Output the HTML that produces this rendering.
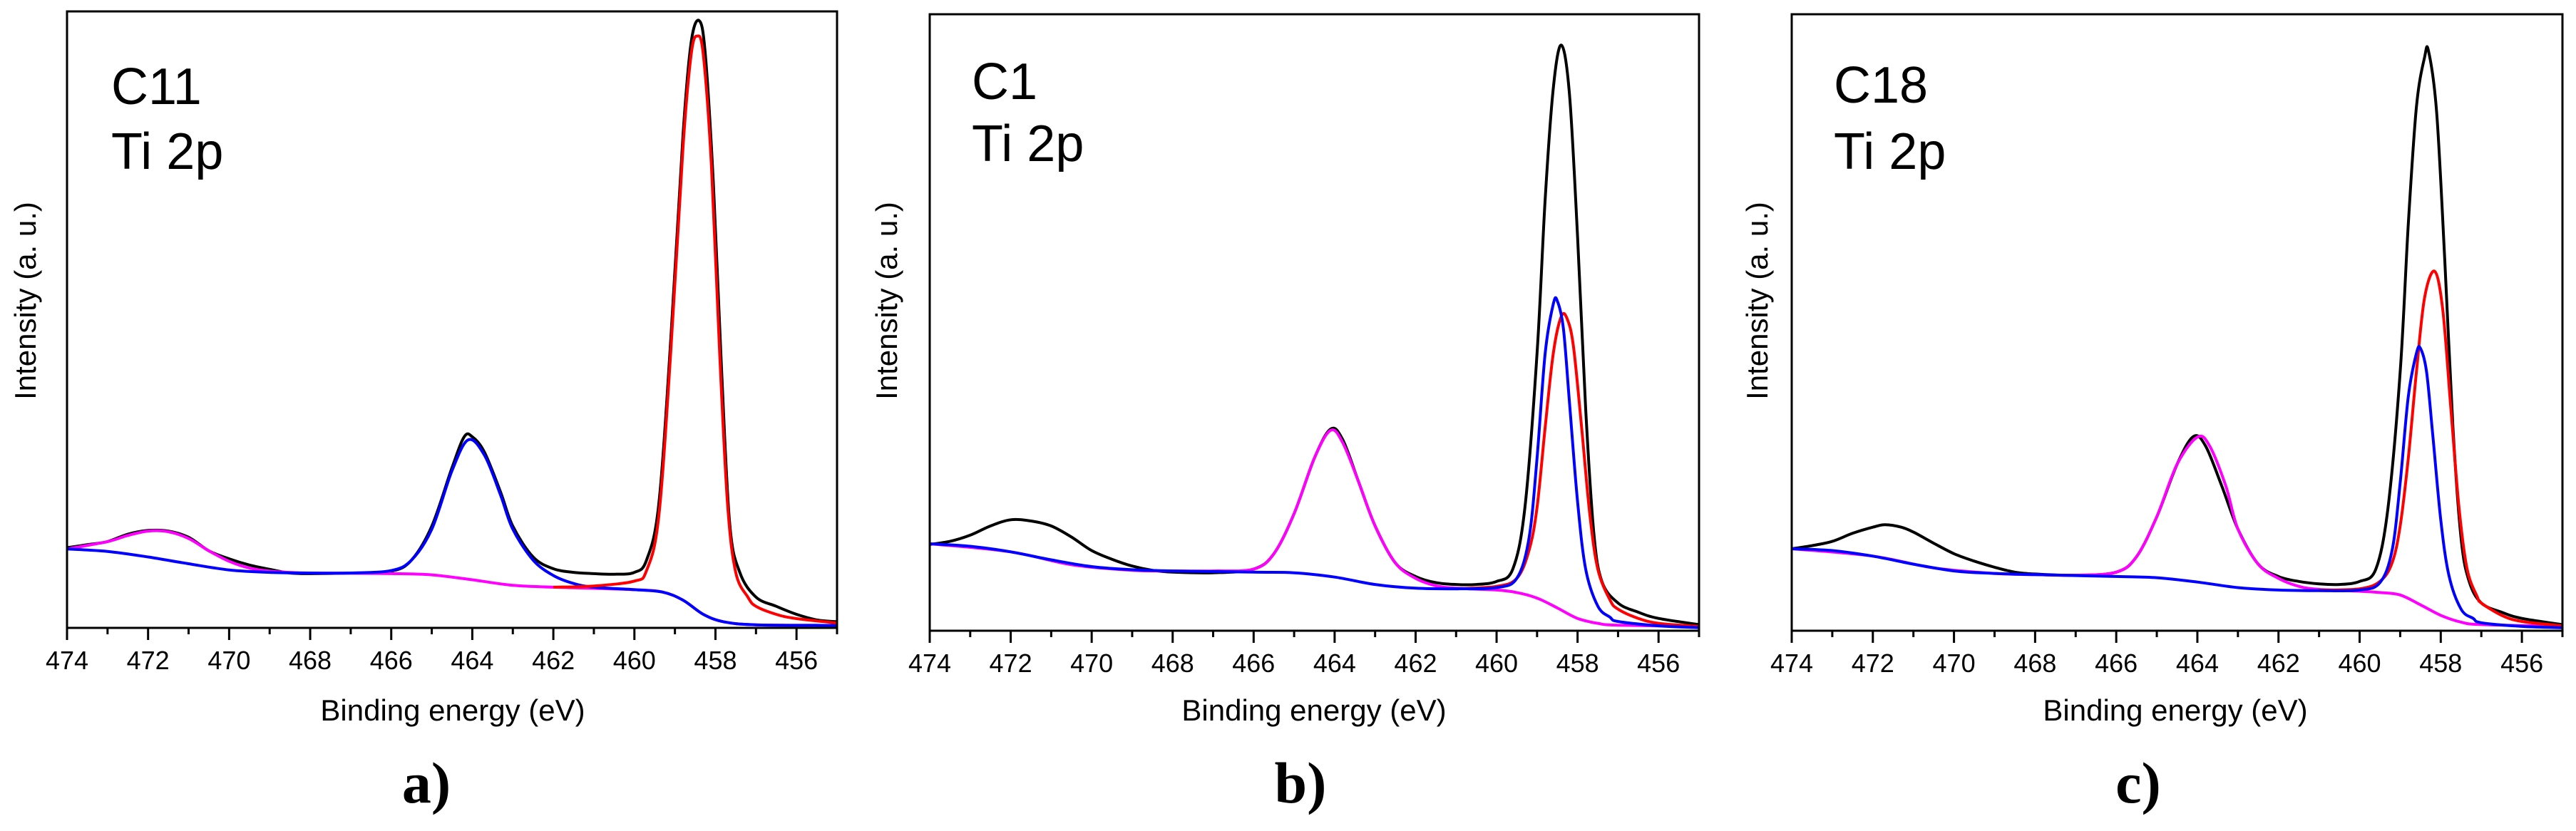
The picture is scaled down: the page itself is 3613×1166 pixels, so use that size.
<!DOCTYPE html>
<html><head><meta charset="utf-8"><style>
html,body{margin:0;padding:0;background:#fff;}
svg{display:block;font-family:"Liberation Sans",Arial,sans-serif;}
</style></head><body>
<svg id="chart" width="3613" height="1166" viewBox="0 0 3613 1166" xmlns="http://www.w3.org/2000/svg"></svg>
<script>
// x tick values (eV)
const tickMajor = [474,472,470,468,466,464,462,460,458,456];
const tickMinor = [473,471,469,467,465,463,461,459,457,455];
const tickLabels = ["474","472","470","468","466","464","462","460","458","456"];
const panelNames = ["C11","C1","C18"];
const panelLetters = ["a)","b)","c)"];

// Panel a (C11)
const aBlackX = [474,473.5,473,472.5,472,471.5,471,470.5,470,469.5,469,468.5,468,467,466,465.5,465,464.5,464.2,464,463.7,463.3,463,462.5,462,461.5,461,460.5,460,459.7,459.4,459.1,458.8,458.6,458.4,458.25,458.05,457.85,457.65,457.4,457,456.5,456,455.5,455];
const aBlackY = [0.13,0.135,0.14,0.152,0.158,0.157,0.147,0.125,0.112,0.102,0.095,0.089,0.088,0.089,0.092,0.11,0.165,0.26,0.31,0.31,0.285,0.22,0.165,0.115,0.096,0.09,0.088,0.087,0.09,0.11,0.2,0.47,0.8,0.95,0.985,0.93,0.72,0.42,0.17,0.09,0.05,0.035,0.022,0.013,0.01];
const aRedX = [462,461,460,459.7,459.4,459.1,458.8,458.6,458.45,458.3,458.1,457.9,457.7,457.5,457.2,457,456.5,456,455];
const aRedY = [0.066,0.068,0.076,0.093,0.18,0.45,0.78,0.93,0.96,0.93,0.75,0.45,0.2,0.09,0.05,0.035,0.022,0.015,0.008];
const aBlueX = [474,473,472,471,470,469,468,467,466,465.5,465,464.5,464.1,463.7,463.3,463,462.5,462,461.5,461,460,459.3,458.8,458.3,457.8,457,455];
const aBlueY = [0.128,0.124,0.115,0.104,0.094,0.09,0.089,0.089,0.093,0.11,0.16,0.255,0.305,0.28,0.215,0.16,0.11,0.085,0.072,0.066,0.062,0.058,0.045,0.022,0.01,0.005,0.004];
const aMagX = [474,473,472.5,472,471.5,471,470.5,470,469.5,469,468.5,468,466,465,464,463,462,460,459.3,458.8,458.3,457.8,457,455];
const aMagY = [0.128,0.14,0.15,0.157,0.156,0.145,0.125,0.108,0.097,0.092,0.09,0.089,0.088,0.086,0.078,0.069,0.066,0.062,0.058,0.045,0.022,0.01,0.005,0.004];

// Panel b (C1)
const bBlackX = [474,473.5,473,472.5,472,471.5,471,470.5,470,469.5,469,468.5,468,467,466,465.5,465,464.5,464.1,463.8,463.4,463,462.5,462,461.5,461,460.5,460,459.6,459.3,459,458.8,458.6,458.4,458.2,458,457.8,457.6,457.4,457,456.5,456,455];
const bBlackY = [0.14,0.145,0.155,0.17,0.18,0.178,0.17,0.152,0.13,0.116,0.105,0.098,0.095,0.094,0.1,0.125,0.19,0.28,0.327,0.31,0.24,0.17,0.11,0.088,0.078,0.075,0.075,0.08,0.1,0.2,0.45,0.7,0.88,0.95,0.87,0.64,0.36,0.16,0.08,0.045,0.03,0.02,0.01];
const bRedX = [461,460,459.5,459.2,459,458.8,458.6,458.4,458.25,458.1,457.9,457.7,457.5,457.2,457,456.5,456,455];
const bRedY = [0.068,0.072,0.085,0.13,0.2,0.33,0.45,0.51,0.505,0.46,0.33,0.19,0.1,0.05,0.035,0.02,0.012,0.007];
const bBlueX = [474,473,472,471,470,469,468,466,465,464,463,462,461,460,459.5,459.2,459,458.8,458.6,458.5,458.35,458.2,458,457.8,457.5,457.2,457,456,455];
const bBlueY = [0.141,0.137,0.128,0.115,0.104,0.099,0.097,0.095,0.094,0.087,0.075,0.069,0.068,0.07,0.085,0.15,0.28,0.45,0.53,0.535,0.49,0.37,0.21,0.1,0.04,0.022,0.015,0.008,0.005];
const bMagX = [474,472,470.5,469,468,467,466,465.5,465,464.5,464.1,463.8,463.4,463,462.5,462,461.5,461,460,459.5,459,458.5,458,457.5,457,455];
const bMagY = [0.141,0.128,0.107,0.098,0.097,0.097,0.1,0.125,0.19,0.28,0.325,0.305,0.24,0.17,0.11,0.085,0.073,0.069,0.066,0.062,0.053,0.037,0.02,0.012,0.009,0.007];

// Panel c (C18)
const cBlackX = [474,473.5,473,472.5,472,471.7,471.3,471,470.5,470,469.5,469,468.5,468,467,466,465.5,465,464.5,464.1,463.8,463.4,463,462.5,462,461.5,461,460.5,460,459.6,459.3,459,458.8,458.6,458.4,458.3,458.1,457.9,457.7,457.5,457.3,457,456.5,456,455];
const cBlackY = [0.133,0.138,0.145,0.158,0.168,0.172,0.168,0.16,0.142,0.125,0.113,0.103,0.095,0.092,0.09,0.095,0.12,0.185,0.27,0.315,0.3,0.235,0.165,0.108,0.088,0.08,0.076,0.075,0.08,0.1,0.2,0.42,0.66,0.85,0.93,0.94,0.84,0.6,0.33,0.15,0.08,0.045,0.03,0.02,0.01];
const cRedX = [461,460,459.5,459.2,459,458.8,458.6,458.4,458.15,457.95,457.75,457.55,457.35,457.1,457,456.5,456,455];
const cRedY = [0.066,0.068,0.08,0.11,0.17,0.28,0.42,0.54,0.583,0.52,0.36,0.2,0.1,0.055,0.045,0.025,0.015,0.008];
const cBlueX = [474,473,472,471,470,469,468,466,465,464,463,462,461,460,459.5,459.2,459,458.8,458.6,458.5,458.35,458.2,458,457.8,457.5,457.2,457,456,455];
const cBlueY = [0.133,0.13,0.121,0.108,0.097,0.093,0.091,0.088,0.086,0.079,0.07,0.066,0.065,0.066,0.078,0.13,0.24,0.38,0.45,0.458,0.42,0.32,0.18,0.09,0.035,0.02,0.013,0.007,0.005];
const cMagX = [474,472,470.5,469,468,467,466,465.5,465,464.5,464,463.7,463.3,463,462.5,462,461.5,461,460,459.5,459,458.5,458,457.5,457,455];
const cMagY = [0.133,0.121,0.102,0.093,0.091,0.09,0.095,0.12,0.185,0.27,0.314,0.3,0.235,0.165,0.108,0.085,0.072,0.067,0.064,0.062,0.058,0.042,0.025,0.014,0.01,0.007];

const panels = [
  {left:94, right:1174, top:16, bottom:881, ylabX:36, nameX:156, nameY:146, tiY:237, titleX:635, letterX:598,
   series:[[aBlackX,aBlackY,"#000","measured"],[aMagX,aMagY,"#ff00ff","satellite-fit"],[aBlueX,aBlueY,"#0000ff","ti2p12-fit"],[aRedX,aRedY,"#ff0000","ti2p32-fit"]]},
  {left:1304, right:2383, top:20, bottom:885, ylabX:1244, nameX:1363, nameY:139, tiY:226, titleX:1843, letterX:1824,
   series:[[bBlackX,bBlackY,"#000","measured"],[bMagX,bMagY,"#ff00ff","ti2p12-fit"],[bRedX,bRedY,"#ff0000","ti2p32-fit-a"],[bBlueX,bBlueY,"#0000ff","ti2p32-fit-b"]]},
  {left:2513, right:3594, top:20, bottom:885, ylabX:2465, nameX:2572, nameY:144, tiY:237, titleX:3051, letterX:2999,
   series:[[cBlackX,cBlackY,"#000","measured"],[cMagX,cMagY,"#ff00ff","ti2p12-fit"],[cRedX,cRedY,"#ff0000","ti2p32-fit-a"],[cBlueX,cBlueY,"#0000ff","ti2p32-fit-b"]]}
];

const NS = "http://www.w3.org/2000/svg";
const svg = document.getElementById("chart");
function mk(tag, attrs, parent){
  const e = document.createElementNS(NS, tag);
  for (const k in attrs) e.setAttribute(k, attrs[k]);
  (parent||svg).appendChild(e);
  return e;
}
function smoothPath(pts){
  let d = "M"+pts[0][0].toFixed(1)+","+pts[0][1].toFixed(1);
  for (let i=0;i<pts.length-1;i++){
    const p0=pts[Math.max(0,i-1)], p1=pts[i], p2=pts[i+1], p3=pts[Math.min(pts.length-1,i+2)];
    const c1x=p1[0]+(p2[0]-p0[0])/6, c1y=p1[1]+(p2[1]-p0[1])/6;
    const c2x=p2[0]-(p3[0]-p1[0])/6, c2y=p2[1]-(p3[1]-p1[1])/6;
    d += " C"+c1x.toFixed(1)+","+c1y.toFixed(1)+" "+c2x.toFixed(1)+","+c2y.toFixed(1)+" "+p2[0].toFixed(1)+","+p2[1].toFixed(1);
  }
  return d;
}

panels.forEach((p, pi) => {
  const g = mk("g", {});
  
  
  const xs = v => p.left + (474 - v) / 19 * (p.right - p.left);
  const ys = v => p.bottom - v * (p.bottom - p.top);

  // series
  p.series.forEach(s => {
    const pts = s[0].map((x,i)=>[xs(x), ys(s[1][i])]);
    const path = mk("path", {d:smoothPath(pts), fill:"none", stroke:s[2], "stroke-width":4, "stroke-linejoin":"round"}, g);
    
    
  });

  // frame
  const frame = mk("rect", {x:p.left, y:p.top, width:p.right-p.left, height:p.bottom-p.top, fill:"none", stroke:"#000", "stroke-width":3}, g);
  
  

  // ticks
  tickMajor.forEach((t, i) => {
    const x = xs(t);
    const tk = mk("line", {x1:x, x2:x, y1:p.bottom, y2:p.bottom+17, stroke:"#000", "stroke-width":3}, g);
    
    
    const lb = mk("text", {x:x, y:p.bottom+58, "font-size":36, "text-anchor":"middle", fill:"#000"}, g);
    lb.textContent = tickLabels[i];
    
    
  });
  tickMinor.forEach(t => {
    const x = xs(t);
    const tk = mk("line", {x1:x, x2:x, y1:p.bottom, y2:p.bottom+9, stroke:"#000", "stroke-width":3}, g);
    
    
  });

  const xt = mk("text", {x:p.titleX, y:1011, "font-size":42, "text-anchor":"middle", fill:"#000"}, g);
  xt.textContent = "Binding energy (eV)";
  
  

  const yt = mk("text", {x:0, y:0, "font-size":42, "text-anchor":"middle", fill:"#000", transform:"translate("+(p.ylabX+14)+",422) rotate(-90)"}, g);
  yt.textContent = "Intensity (a. u.)";
  
  

  const nm = mk("text", {x:p.nameX, y:p.nameY, "font-size":72, fill:"#000"}, g);
  nm.textContent = panelNames[pi];
  
  
  const ti = mk("text", {x:p.nameX, y:p.tiY, "font-size":72, fill:"#000"}, g);
  ti.textContent = "Ti 2p";
  
  

  const lt = mk("text", {x:p.letterX, y:1126, "font-size":82, "font-weight":"bold", "text-anchor":"middle", fill:"#000", "font-family":"'Liberation Serif','Times New Roman',serif"}, g);
  lt.textContent = panelLetters[pi];
  
  
});
</script>
</body></html>
